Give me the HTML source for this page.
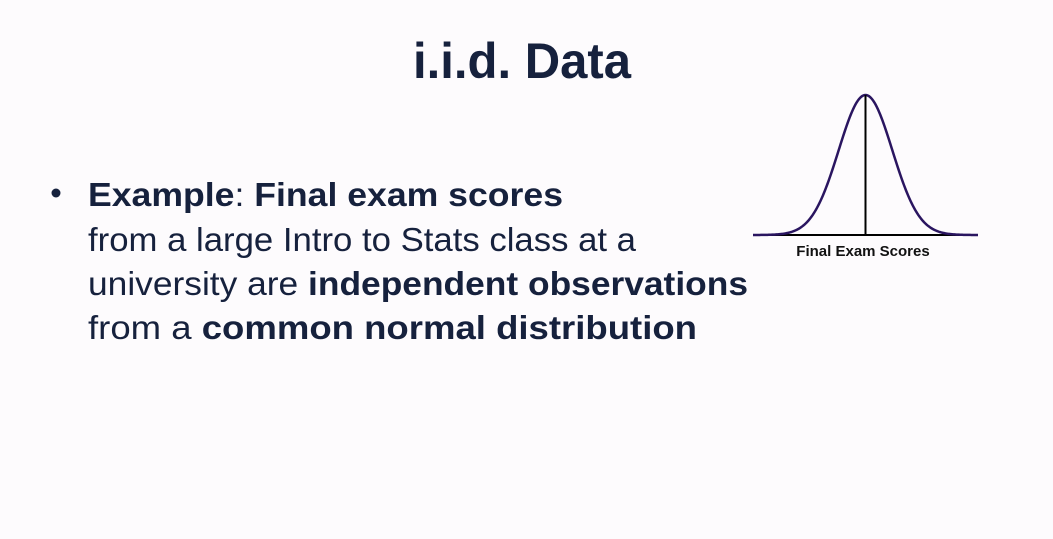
<!DOCTYPE html>
<html><head><meta charset="utf-8"><style>
html,body{margin:0;padding:0;background:#fdfbfd;}
svg{display:block;font-family:"Liberation Sans",sans-serif;}
</style></head><body>
<svg width="1053" height="539" viewBox="0 0 1053 539">
<rect width="1053" height="539" fill="#fdfbfd"/>
<text x="413" y="78" font-size="50" font-weight="bold" fill="#16213d" textLength="218" lengthAdjust="spacingAndGlyphs">i.i.d. Data</text>
<circle cx="56" cy="193" r="4.5" fill="#16213d"/>
<g fill="#16213d" font-size="33">
<text x="88" y="206" textLength="475" lengthAdjust="spacingAndGlyphs"><tspan font-weight="bold">Example</tspan>: <tspan font-weight="bold">Final exam scores</tspan></text>
<text x="88" y="251" textLength="548" lengthAdjust="spacingAndGlyphs">from a large Intro to Stats class at a</text>
<text x="88" y="295" textLength="660" lengthAdjust="spacingAndGlyphs">university are <tspan font-weight="bold">independent observations</tspan></text>
<text x="88" y="339" textLength="609" lengthAdjust="spacingAndGlyphs">from a <tspan font-weight="bold">common normal distribution</tspan></text>
</g>
<g id="chart"></g>
</svg>
<script>
const distMean = [0];
const distSd = [1];
const xRange = [-4.2, 4.2];
const axisLabel = ["Final Exam Scores"];
const ns = "http://www.w3.org/2000/svg";
const g = document.getElementById('chart');
const x0 = 753, x1 = 978, baseY = 235, peakY = 95;
const xs = v => x0 + (v - xRange[0]) / (xRange[1] - xRange[0]) * (x1 - x0);
const pdf = v => Math.exp(-0.5 * Math.pow((v - distMean[0]) / distSd[0], 2));
const ys = p => baseY - p * (baseY - peakY);
const axis = document.createElementNS(ns, 'line');


axis.setAttribute('x1', x0); axis.setAttribute('x2', x1);
axis.setAttribute('y1', baseY); axis.setAttribute('y2', baseY);
axis.setAttribute('stroke', '#000'); axis.setAttribute('stroke-width', '2');
g.appendChild(axis);
let d = '';
for (let i = 0; i <= 200; i++) {
  const v = xRange[0] + (xRange[1] - xRange[0]) * i / 200;
  d += (i ? 'L' : 'M') + xs(v).toFixed(2) + ',' + ys(pdf(v)).toFixed(2);
}
const curve = document.createElementNS(ns, 'path');


curve.setAttribute('d', d); curve.setAttribute('fill', 'none');
curve.setAttribute('stroke', '#2a1560'); curve.setAttribute('stroke-width', '2.5');
g.appendChild(curve);
const mline = document.createElementNS(ns, 'line');


mline.setAttribute('x1', xs(distMean[0])); mline.setAttribute('x2', xs(distMean[0]));
mline.setAttribute('y1', ys(1)); mline.setAttribute('y2', baseY);
mline.setAttribute('stroke', '#000'); mline.setAttribute('stroke-width', '2');
g.appendChild(mline);
const lbl = document.createElementNS(ns, 'text');


lbl.setAttribute('x', 863); lbl.setAttribute('y', 256);
lbl.setAttribute('text-anchor', 'middle'); lbl.setAttribute('font-size', '15');
lbl.setAttribute('font-weight', 'bold'); lbl.setAttribute('fill', '#111');
lbl.textContent = axisLabel[0];
g.appendChild(lbl);
</script>
</body></html>
